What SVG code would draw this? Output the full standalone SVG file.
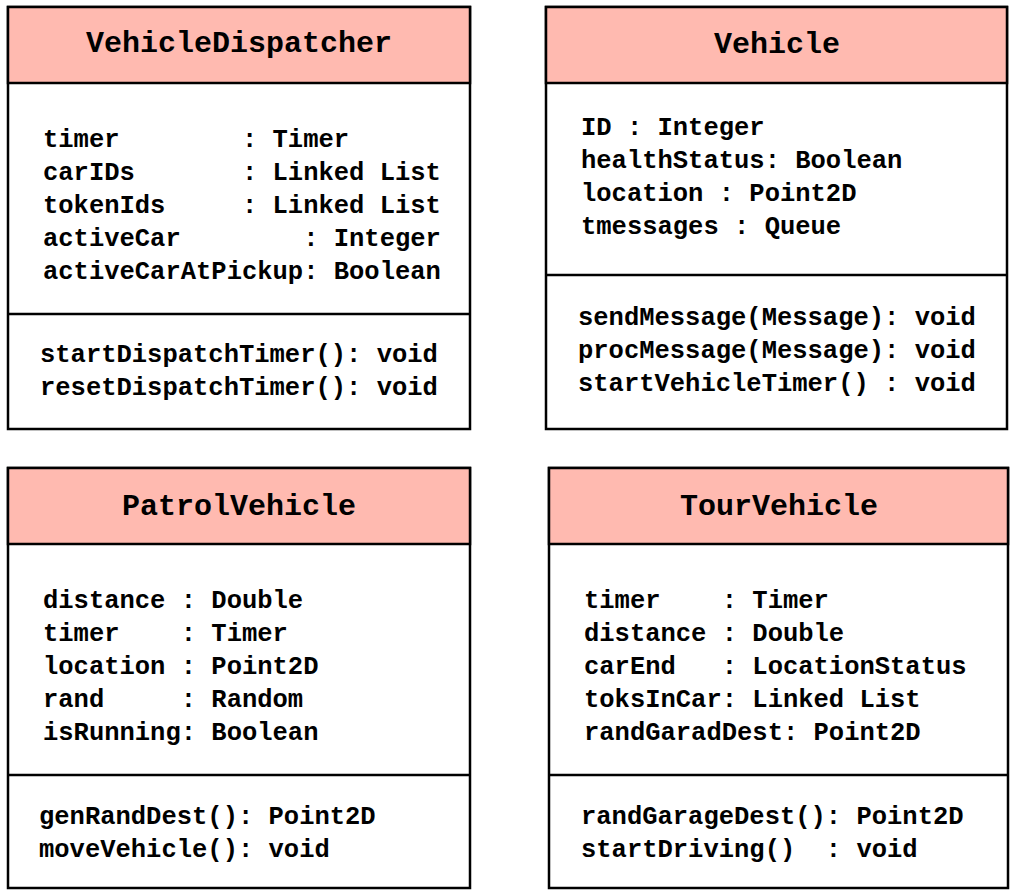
<svg xmlns="http://www.w3.org/2000/svg" width="1010" height="890" viewBox="0 0 1010 890">
<style>
rect.box{fill:#fff;stroke:#000;stroke-width:2.5}
rect.head{fill:#FFBAB0;stroke:#000;stroke-width:2.5}
line.div{stroke:#000;stroke-width:2.5}
text{font-family:"Liberation Mono","Courier New",monospace;font-weight:bold;fill:#000;white-space:pre}
text.t{font-size:30px;text-anchor:middle}
text.m{font-size:25.5px}
</style>
<rect width="1010" height="890" fill="#fff"/>
<g id="VehicleDispatcher">
<rect class="box" x="8" y="7" width="462" height="422"/>
<rect class="head" x="8" y="7" width="462" height="76"/>
<line class="div" x1="8" y1="314" x2="470" y2="314"/>
<text class="t" x="239" y="52">VehicleDispatcher</text>
<text class="m" x="43" y="147">timer        : Timer</text>
<text class="m" x="43" y="180">carIDs       : Linked List</text>
<text class="m" x="43" y="213">tokenIds     : Linked List</text>
<text class="m" x="43" y="246">activeCar        : Integer</text>
<text class="m" x="43" y="279">activeCarAtPickup: Boolean</text>
<text class="m" x="40" y="362">startDispatchTimer(): void</text>
<text class="m" x="40" y="395">resetDispatchTimer(): void</text>
</g>
<g id="Vehicle">
<rect class="box" x="546" y="7" width="461" height="422"/>
<rect class="head" x="546" y="7" width="461" height="76"/>
<line class="div" x1="546" y1="275" x2="1007" y2="275"/>
<text class="t" x="777" y="53">Vehicle</text>
<text class="m" x="581" y="135">ID : Integer</text>
<text class="m" x="581" y="168">healthStatus: Boolean</text>
<text class="m" x="581" y="201">location : Point2D</text>
<text class="m" x="581" y="234">tmessages : Queue</text>
<text class="m" x="578" y="325">sendMessage(Message): void</text>
<text class="m" x="578" y="358">procMessage(Message): void</text>
<text class="m" x="578" y="391">startVehicleTimer() : void</text>
</g>
<g id="PatrolVehicle">
<rect class="box" x="8" y="468" width="462" height="420"/>
<rect class="head" x="8" y="468" width="462" height="76"/>
<line class="div" x1="8" y1="775" x2="470" y2="775"/>
<text class="t" x="239" y="515">PatrolVehicle</text>
<text class="m" x="43" y="608">distance : Double</text>
<text class="m" x="43" y="641">timer    : Timer</text>
<text class="m" x="43" y="674">location : Point2D</text>
<text class="m" x="43" y="707">rand     : Random</text>
<text class="m" x="43" y="740">isRunning: Boolean</text>
<text class="m" x="39" y="824">genRandDest(): Point2D</text>
<text class="m" x="39" y="857">moveVehicle(): void</text>
</g>
<g id="TourVehicle">
<rect class="box" x="549" y="468" width="459" height="420"/>
<rect class="head" x="549" y="468" width="459" height="76"/>
<line class="div" x1="549" y1="775" x2="1008" y2="775"/>
<text class="t" x="779" y="515">TourVehicle</text>
<text class="m" x="584" y="608">timer    : Timer</text>
<text class="m" x="584" y="641">distance : Double</text>
<text class="m" x="584" y="674">carEnd   : LocationStatus</text>
<text class="m" x="584" y="707">toksInCar: Linked List</text>
<text class="m" x="584" y="740">randGaradDest: Point2D</text>
<text class="m" x="581" y="824">randGarageDest(): Point2D</text>
<text class="m" x="581" y="857">startDriving()  : void</text>
</g>
<g id="connectors"></g>
</svg>
